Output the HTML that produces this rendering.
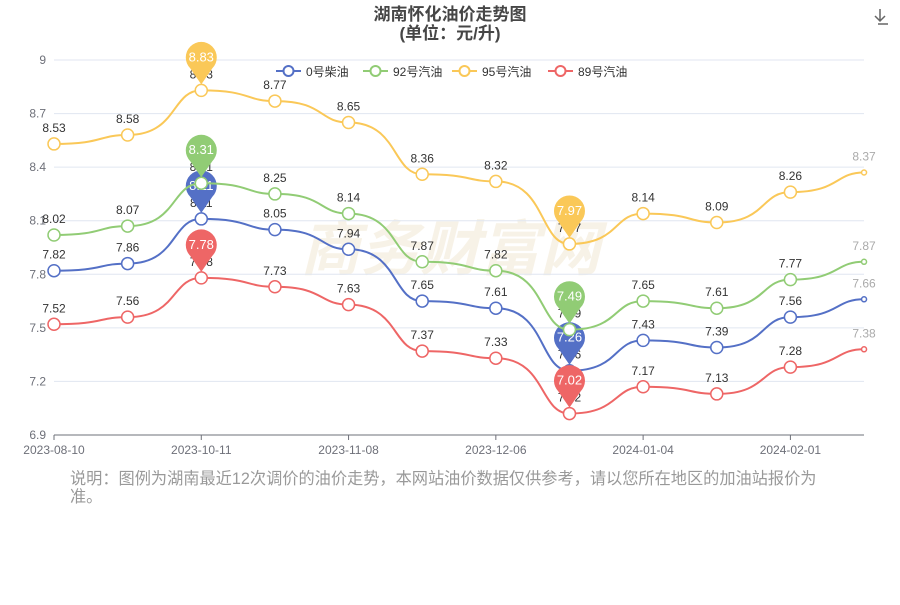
<!DOCTYPE html>
<html><head><meta charset="utf-8"><style>
body{margin:0;background:#fff;font-family:"Liberation Sans","Noto Sans CJK SC",sans-serif}
svg text{font-family:"Liberation Sans","Noto Sans CJK SC",sans-serif}
</style></head><body>
<svg id="c" width="900" height="600" xmlns="http://www.w3.org/2000/svg">
<text x="450" y="20" text-anchor="middle" font-size="17" font-weight="bold" fill="#464646">湖南怀化油价走势图</text>
<text x="450" y="39" text-anchor="middle" font-size="17" font-weight="bold" fill="#464646">(单位：元/升)</text>
<g stroke="#666" fill="none" stroke-width="1.5"><path d="M880 9v12M875 16l5 5 5-5M878 24h10" /></g>
<text x="450" y="270" text-anchor="middle" font-size="60" font-weight="bold" fill="#f3ead8" opacity="0.6" font-style="italic">商务财富网</text>
<g id="g"></g>
<text x="70" y="484" font-size="16.2" fill="#999">说明：图例为湖南最近12次调价的油价走势，本网站油价数据仅供参考，请以您所在地区的加油站报价为</text>
<text x="70" y="502" font-size="16.2" fill="#999">准。</text>
</svg>
<script>
const g=document.getElementById('g');let h='';
const Y=v=>60+(9-v)*178.57, X=i=>54+i*73.64;
[9,8.7,8.4,8.1,7.8,7.5,7.2,6.9].forEach(v=>{h+=`<line x1="54" x2="864" y1="${Y(v)}" y2="${Y(v)}" stroke="#e0e6f1"/><text x="46" y="${Y(v)+4}" text-anchor="end" font-size="12" fill="#6e7079">${v==9?'9':v}</text>`;});
h+=`<line x1="54" x2="864" y1="435" y2="435" stroke="#6e7079"/>`;
[['2023-08-10',0],['2023-10-11',2],['2023-11-08',4],['2023-12-06',6],['2024-01-04',8],['2024-02-01',10]].forEach(([t,i])=>{h+=`<line x1="${X(i)}" x2="${X(i)}" y1="435" y2="440" stroke="#6e7079"/><text x="${X(i)}" y="454" text-anchor="middle" font-size="12" fill="#6e7079">${t}</text>`;});
const S=[
['0号柴油','#5470c6',[7.82,7.86,8.11,8.05,7.94,7.65,7.61,7.26,7.43,7.39,7.56,7.66]],
['92号汽油','#91cc75',[8.02,8.07,8.31,8.25,8.14,7.87,7.82,7.49,7.65,7.61,7.77,7.87]],
['95号汽油','#fac858',[8.53,8.58,8.83,8.77,8.65,8.36,8.32,7.97,8.14,8.09,8.26,8.37]],
['89号汽油','#ee6666',[7.52,7.56,7.78,7.73,7.63,7.37,7.33,7.02,7.17,7.13,7.28,7.38]]];
const lx=[276,363,452,548];
S.forEach(([n,c,d],k)=>{
 h+=`<line x1="${lx[k]}" x2="${lx[k]+25}" y1="71" y2="71" stroke="${c}" stroke-width="2"/><circle cx="${lx[k]+12.5}" cy="71" r="5" fill="#fff" stroke="${c}" stroke-width="2"/><text x="${lx[k]+30}" y="76" font-size="12" fill="#333">${n}</text>`;
 let p=`M${X(0)} ${Y(d[0])}`;
 for(let i=1;i<d.length;i++){const x0=X(i-1),x1=X(i);p+=` C${x0+50} ${Y(d[i-1])} ${x1-30} ${Y(d[i])} ${x1} ${Y(d[i])}`;}
 h+=`<path d="${p}" fill="none" stroke="${c}" stroke-width="2"/>`;
 d.forEach((v,i)=>{const last=i==11;h+=`<circle cx="${X(i)}" cy="${Y(v)}" r="${last?2.5:6}" fill="#fff" stroke="${c}" stroke-width="1.5"/><text x="${X(i)}" y="${Y(v)-12}" text-anchor="middle" font-size="12" fill="${last?'#aaa':'#333'}">${v.toFixed(2)}</text>`;});
 [2,7].forEach(i=>{const x=X(i),y=Y(d[i])-6;h+=`<path d="M${x} ${y} L${x-11} ${y-16} A15.5 15.5 0 1 1 ${x+11} ${y-16} Z" fill="${c}"/><text x="${x}" y="${y-23}" text-anchor="middle" font-size="13" fill="#fff">${d[i].toFixed(2)}</text>`;});
});
g.innerHTML=h;
</script>
</body></html>
